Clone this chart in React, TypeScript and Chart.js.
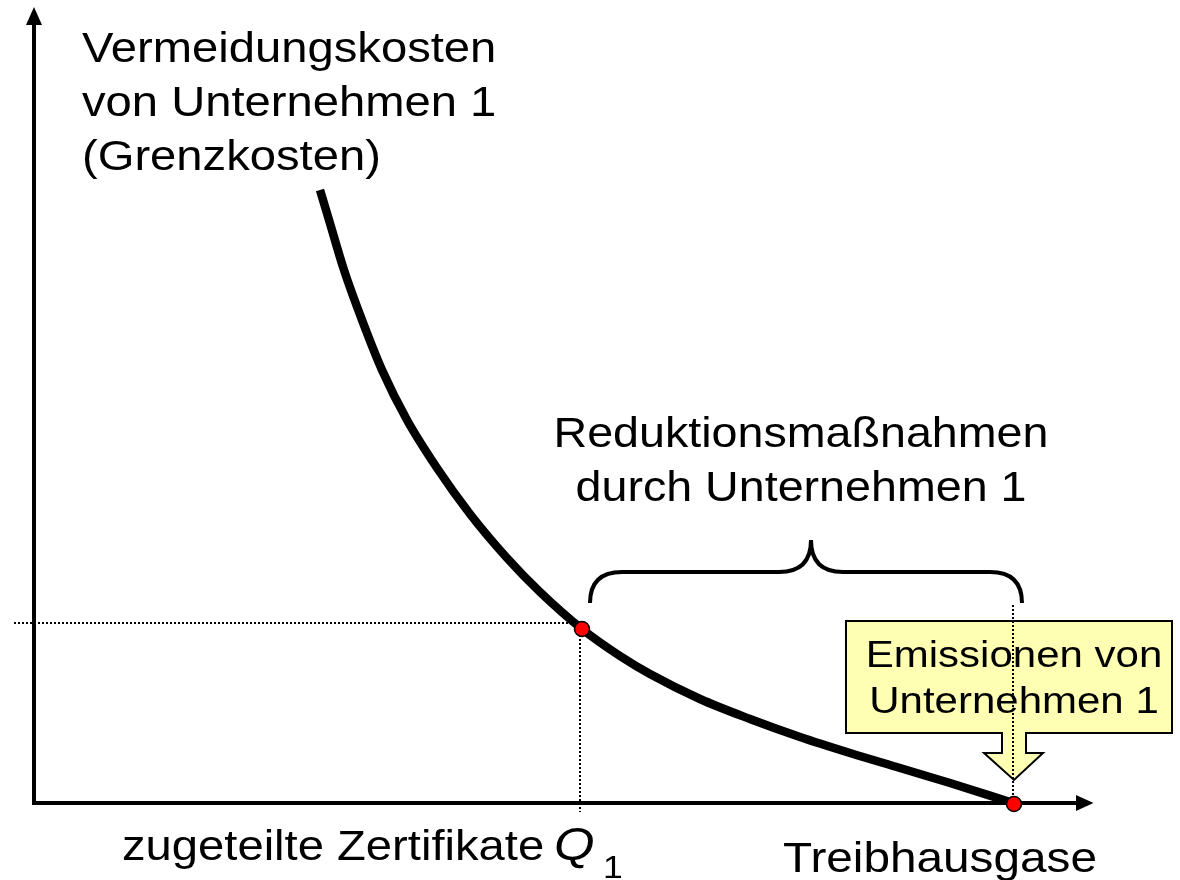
import { useEffect, useRef } from "react";
import { Chart, registerables } from "chart.js";

Chart.register(...registerables);

// ---- data ----
const curveX = [28.6, 29.5, 31.0, 32.8, 34.8, 37.3, 40.3, 43.6, 47.3, 50.6, 54.8, 58.6, 61.6, 66.6, 71.6, 76.6, 81.6, 86.6, 91.6, 97.6];
const curveY = [61.3, 58.3, 53.3, 48.3, 43.3, 38.3, 33.5, 28.9, 24.5, 21.1, 17.4, 14.7, 12.9, 10.4, 8.4, 6.6, 5.0, 3.5, 2.0, 0.1];

const markerX = [54.8, 98.0];
const markerY = [17.4, -0.1];

const guideHX = [-2.0, 54.6];
const guideHY = [18.0, 18.0];
const guideV1X = [54.6, 54.6];
const guideV1Y = [18.0, -0.9];
const guideV2X = [97.9, 97.9];
const guideV2Y = [19.8, 0.0];

const yAxisLabel = ["Vermeidungskosten", "von Unternehmen 1", "(Grenzkosten)"];
const braceLabel = ["Reduktionsmaßnahmen", "durch Unternehmen 1"];
const calloutLabel = ["Emissionen von", "Unternehmen 1"];
const xLabelLeft = "zugeteilte Zertifikate";
const qLabel = "Q";
const qSub = "1";
const xAxisLabel = "Treibhausgase";

// ---- layout (data units of the hidden scales) ----
const X_MIN = -3.4, X_MAX = 114.6, Y_MIN = -7.7, Y_MAX = 80.3;
const AX = { xEnd: 104.3, xTip: 105.95, yEnd: 77.9, yTip: 79.6, headHalf: 0.8 };
const BRACE = { left: 55.6, mid: 77.7, right: 98.8, bottom: 20.0, bar: 23.1, tip: 26.3, r: 3.2 };
const CALLOUT = { left: 81.2, right: 113.8, top: 18.2, bottom: 7.0, shaftL: 96.8, shaftR: 99.2, headL: 95.0, headR: 100.9, shaftBottom: 5.0, tipX: 98.0, tipY: 2.3 };
const TXT = {
  mainX: 4.8, mainY: [74.1, 68.7, 63.3],
  braceX: 76.7, braceY: [35.6, 30.2],
  calloutX: 98.0, calloutY: [13.6, 9.0],
  leftX: 8.8, leftY: -5.7, qX: 52.0, subX: 56.9, subY: -7.5,
  rightX: 74.9, rightY: -6.9,
};

const FONT = '"Liberation Sans", Arial, Helvetica, sans-serif';
const K = 1.11;

function drawText(ctx: CanvasRenderingContext2D, text: string, x: number, y: number, size: number, align: CanvasTextAlign, k: number, italic = false) {
  ctx.save();
  ctx.font = `${italic ? "italic " : ""}${size}px ${FONT}`;
  ctx.fillStyle = "#000";
  ctx.textAlign = align;
  ctx.textBaseline = "alphabetic";
  ctx.translate(x, y);
  ctx.scale(k, 1);
  ctx.fillText(text, 0, 0);
  ctx.restore();
}

const decor = {
  id: "decor",
  beforeDatasetsDraw(chart: any) {
    const ctx: CanvasRenderingContext2D = chart.ctx;
    const xs = chart.scales.x, ys = chart.scales.y;
    const X = (v: number) => xs.getPixelForValue(v);
    const Y = (v: number) => ys.getPixelForValue(v);

    // axes
    ctx.save();
    ctx.strokeStyle = "#000";
    ctx.fillStyle = "#000";
    ctx.lineWidth = 4;
    ctx.lineJoin = "miter";
    ctx.beginPath();
    ctx.moveTo(X(0), Y(AX.yEnd));
    ctx.lineTo(X(0), Y(0));
    ctx.lineTo(X(AX.xEnd), Y(0));
    ctx.stroke();
    const hh = AX.headHalf * 10;
    ctx.beginPath();
    ctx.moveTo(X(0), Y(AX.yTip));
    ctx.lineTo(X(0) - hh, Y(AX.yEnd) + 1);
    ctx.lineTo(X(0) + hh, Y(AX.yEnd) + 1);
    ctx.closePath();
    ctx.fill();
    ctx.beginPath();
    ctx.moveTo(X(AX.xTip), Y(0));
    ctx.lineTo(X(AX.xEnd) - 1, Y(0) - hh);
    ctx.lineTo(X(AX.xEnd) - 1, Y(0) + hh);
    ctx.closePath();
    ctx.fill();
    ctx.restore();

    // callout
    const c = CALLOUT;
    ctx.save();
    ctx.beginPath();
    ctx.moveTo(X(c.left), Y(c.top));
    ctx.lineTo(X(c.right), Y(c.top));
    ctx.lineTo(X(c.right), Y(c.bottom));
    ctx.lineTo(X(c.shaftR), Y(c.bottom));
    ctx.lineTo(X(c.shaftR), Y(c.shaftBottom));
    ctx.lineTo(X(c.headR), Y(c.shaftBottom));
    ctx.lineTo(X(c.tipX), Y(c.tipY));
    ctx.lineTo(X(c.headL), Y(c.shaftBottom));
    ctx.lineTo(X(c.shaftL), Y(c.shaftBottom));
    ctx.lineTo(X(c.shaftL), Y(c.bottom));
    ctx.lineTo(X(c.left), Y(c.bottom));
    ctx.closePath();
    ctx.fillStyle = "#FFFFB4";
    ctx.fill();
    ctx.strokeStyle = "#000";
    ctx.lineWidth = 2;
    ctx.lineJoin = "miter";
    ctx.stroke();
    ctx.restore();
    calloutLabel.forEach((t, i) => drawText(ctx, t, X(TXT.calloutX), Y(TXT.calloutY[i]), 37.5, "center", 1.12));
  },
  afterDatasetsDraw(chart: any) {
    const ctx: CanvasRenderingContext2D = chart.ctx;
    const xs = chart.scales.x, ys = chart.scales.y;
    const X = (v: number) => xs.getPixelForValue(v);
    const Y = (v: number) => ys.getPixelForValue(v);

    // brace
    const b = BRACE;
    const r = b.r;
    ctx.save();
    ctx.strokeStyle = "#000";
    ctx.lineWidth = 4;
    ctx.lineCap = "butt";
    ctx.beginPath();
    ctx.moveTo(X(b.left), Y(b.bottom));
    ctx.quadraticCurveTo(X(b.left), Y(b.bar), X(b.left + r), Y(b.bar));
    ctx.lineTo(X(b.mid - r), Y(b.bar));
    ctx.quadraticCurveTo(X(b.mid), Y(b.bar), X(b.mid), Y(b.tip));
    ctx.quadraticCurveTo(X(b.mid), Y(b.bar), X(b.mid + r), Y(b.bar));
    ctx.lineTo(X(b.right - r), Y(b.bar));
    ctx.quadraticCurveTo(X(b.right), Y(b.bar), X(b.right), Y(b.bottom));
    ctx.stroke();
    ctx.restore();

    // labels
    yAxisLabel.forEach((t, i) => drawText(ctx, t, X(TXT.mainX), Y(TXT.mainY[i]), 42.5, "left", K));
    braceLabel.forEach((t, i) => drawText(ctx, t, X(TXT.braceX), Y(TXT.braceY[i]), 42, "center", K));
    drawText(ctx, xLabelLeft, X(TXT.leftX), Y(TXT.leftY), 42.5, "left", K);
    drawText(ctx, qLabel, X(TXT.qX), Y(TXT.leftY), 47, "left", K, true);
    drawText(ctx, qSub, X(TXT.subX), Y(TXT.subY), 32, "left", K);
    drawText(ctx, xAxisLabel, X(TXT.rightX), Y(TXT.rightY), 43, "left", K);
  },
};

const pts = (xs: number[], ys: number[]) => xs.map((x, i) => ({ x, y: ys[i] }));

export default function App() {
  const ref = useRef<HTMLCanvasElement | null>(null);
  useEffect(() => {
    if (!ref.current) return;
    const dotted = {
      borderColor: "#000",
      borderWidth: 2,
      borderDash: [2, 2],
      borderCapStyle: "butt" as const,
      pointRadius: 0,
      tension: 0,
      clip: false as any,
      order: 3,
    };
    const chart = new Chart(ref.current, {
      type: "line",
      data: {
        datasets: [
          {
            data: pts(markerX, markerY),
            showLine: false,
            pointRadius: 7.5,
            pointBackgroundColor: "#FF0000",
            pointBorderColor: "#000",
            pointBorderWidth: 1.5,
            clip: false as any,
            order: 0,
          },
          {
            data: pts(curveX, curveY),
            borderColor: "#000",
            borderWidth: 8.5,
            pointRadius: 0,
            cubicInterpolationMode: "monotone",
            borderCapStyle: "butt",
            clip: false as any,
            order: 1,
          },
          { ...dotted, data: pts(guideHX, guideHY) },
          { ...dotted, data: pts(guideV1X, guideV1Y) },
          { ...dotted, data: pts(guideV2X, guideV2Y), order: 2 },
        ] as any,
      },
      options: {
        animation: false,
        responsive: false,
        events: [],
        layout: { padding: 0, autoPadding: false },
        plugins: { legend: { display: false }, tooltip: { enabled: false } },
        scales: {
          x: { type: "linear", min: X_MIN, max: X_MAX, display: false },
          y: { type: "linear", min: Y_MIN, max: Y_MAX, display: false },
        },
      },
      plugins: [decor],
    });
    return () => chart.destroy();
  }, []);
  return (
    <div style={{ position: "absolute", left: 0, top: 0, width: 1180, height: 880, background: "#fff" }}>
      <canvas ref={ref} width={1180} height={880} style={{ display: "block" }} />
    </div>
  );
}
